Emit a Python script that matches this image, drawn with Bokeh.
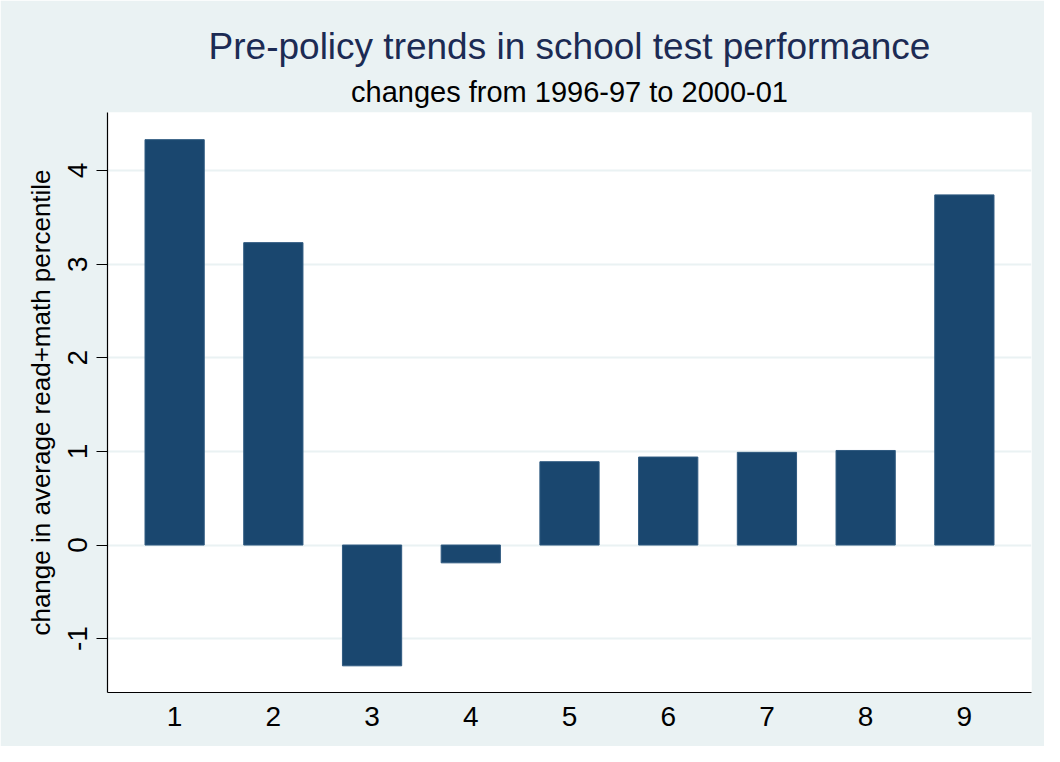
from bokeh.plotting import figure
from bokeh.models import Range1d, Title, ColumnDataSource
from bokeh.embed import file_html
from bokeh.resources import INLINE

# ---- data ----
groups = [1, 2, 3, 4, 5, 6, 7, 8, 9]
changes = [4.33, 3.23, -1.29, -0.19, 0.89, 0.94, 0.99, 1.01, 3.74]
y_ticks = [-1, 0, 1, 2, 3, 4]
y_tick_labels = ["-1", "0", "1", "2", "3", "4"]
title_text = "Pre-policy trends in school test performance"
subtitle_text = "changes from 1996-97 to 2000-01"
y_label = "change in average read+math percentile"

BG = "#EAF2F3"
BAR = "#1a476f"
FONT = "Liberation Sans"

source = ColumnDataSource(data=dict(x=groups, top=changes))

p = figure(width=1044, height=746, output_backend="svg", toolbar_location=None,
           x_range=Range1d(0.32, 9.68), y_range=Range1d(-1.575, 4.62),
           min_border_left=107, min_border_right=13, min_border_top=112,
           min_border_bottom=54)

p.background_fill_color = "white"
p.border_fill_color = BG
p.outline_line_color = None

p.vbar(x="x", top="top", bottom=0, width=0.6, source=source,
       fill_color=BAR, line_color="#2f5a80", line_width=1)

# titles (subtitle added first so it sits nearest the plot)
p.add_layout(Title(text=subtitle_text, align="center", text_font=FONT,
                   text_font_size="29px", text_font_style="normal",
                   text_color="black", standoff=9), "above")
p.add_layout(Title(text=title_text, align="center", text_font=FONT,
                   text_font_size="37px", text_font_style="normal",
                   text_color="#1c2b54", standoff=5), "above")

# grid
p.xgrid.visible = False
p.ygrid.grid_line_color = BG
p.ygrid.grid_line_width = 2

# x axis
p.xaxis.ticker = groups
p.xaxis.major_tick_out = 0
p.xaxis.major_tick_in = 0
p.xaxis.minor_tick_line_color = None
p.xaxis.axis_line_color = "black"
p.xaxis.axis_line_width = 1.2
p.xaxis.major_label_text_font = FONT
p.xaxis.major_label_text_font_size = "28px"
p.xaxis.major_label_text_color = "black"
p.xaxis.major_label_standoff = 14

# y axis
p.yaxis.ticker = y_ticks
p.yaxis.major_label_overrides = {t: lab for t, lab in zip(y_ticks, y_tick_labels)}
p.yaxis.major_tick_out = 11
p.yaxis.major_tick_in = 0
p.yaxis.major_tick_line_color = "black"
p.yaxis.minor_tick_line_color = None
p.yaxis.axis_line_color = "black"
p.yaxis.axis_line_width = 1.2
p.yaxis.major_label_orientation = "vertical"
p.yaxis.major_label_text_font = FONT
p.yaxis.major_label_text_font_size = "28px"
p.yaxis.major_label_text_color = "black"
p.yaxis.major_label_standoff = 9
p.yaxis.axis_label = y_label
p.yaxis.axis_label_text_font = FONT
p.yaxis.axis_label_text_font_size = "26px"
p.yaxis.axis_label_text_font_style = "normal"
p.yaxis.axis_label_text_color = "black"
p.yaxis.axis_label_standoff = 10

open("out.html", "w").write(file_html(p, INLINE))
